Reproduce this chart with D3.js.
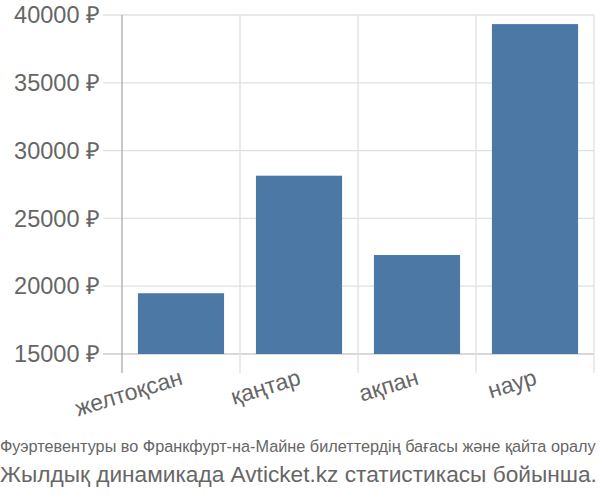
<!DOCTYPE html>
<html><head><meta charset="utf-8">
<script src="https://cdn.jsdelivr.net/npm/d3@7"></script>
<style>body{margin:0;background:#fff}svg{display:block}</style>
</head><body>
<svg id="c" width="600" height="500"></svg>
<script>
const categories = ["желтоқсан", "қаңтар", "ақпан", "наур"];
const values = [19480, 28150, 22300, 39330];
const yTicks = [15000, 20000, 25000, 30000, 35000, 40000];
const title1 = "Фуэртевентуры во Франкфурт-на-Майне билеттердің бағасы және қайта оралу";
const title2 = "Жылдық динамикада Avticket.kz статистикасы бойынша.";

const svg = d3.select("#c");
const L = 122, R = 594, T = 15, B = 354;
const x = d3.scaleBand().domain(categories).range([L, R]).paddingInner(0.27).paddingOuter(0.135);
const y = d3.scaleLinear().domain([15000, 40000]).range([B, T]);
const step = (R - L) / categories.length;
const FONT = "'Liberation Sans', Arial, sans-serif";

// horizontal grid
svg.append("g").selectAll("line").data(yTicks).join("line")
  .attr("x1", L - 19).attr("x2", R).attr("y1", d => y(d)).attr("y2", d => y(d))
  .attr("stroke", d => d === 15000 ? "#ccc" : "#e0e0e0").attr("stroke-width", 1.3);
// vertical grid
const vx = d3.range(categories.length + 1).map(i => L + i * step);
svg.append("g").selectAll("line").data(vx).join("line")
  .attr("x1", d => d).attr("x2", d => d).attr("y1", T).attr("y2", B + 19)
  .attr("stroke", (d, i) => i === 0 ? "#aaa" : "#e0e0e0").attr("stroke-width", 1.3);

// bars
svg.append("g").selectAll("rect").data(values).join("rect")
  .attr("x", (d, i) => x(categories[i])).attr("width", x.bandwidth())
  .attr("y", d => y(d)).attr("height", d => B - y(d))
  .attr("fill", "#4c78a6");

// y labels
svg.append("g").selectAll("text").data(yTicks).join("text")
  .attr("x", 100).attr("y", d => y(d)).attr("dy", "0.35em")
  .attr("text-anchor", "end").attr("font-family", FONT)
  .attr("font-size", 23.5).attr("fill", "#666")
  .text(d => d + " ₽");

// x labels
svg.append("g").selectAll("text").data(categories).join("text")
  .attr("transform", d => `translate(${x(d) + x.bandwidth() / 2 + 3},${B + 30}) rotate(-17)`)
  .attr("text-anchor", "end").attr("font-family", FONT)
  .attr("font-size", 23).attr("fill", "#666")
  .text(d => d);

// titles, horizontally fitted to the width
function fitText(t, width) {
  const w = t.node().getComputedTextLength();
  const s = width / w;
  t.attr("transform", `scale(${s},1)`);
}
const t1 = svg.append("text").attr("x", 0).attr("y", 452).attr("font-family", FONT)
  .attr("font-size", 17).attr("fill", "#666").text(title1);
fitText(t1, 596);
const t2 = svg.append("text").attr("x", 0).attr("y", 482).attr("font-family", FONT)
  .attr("font-size", 22.5).attr("fill", "#666").text(title2);
fitText(t2, 597);
</script>
</body></html>
